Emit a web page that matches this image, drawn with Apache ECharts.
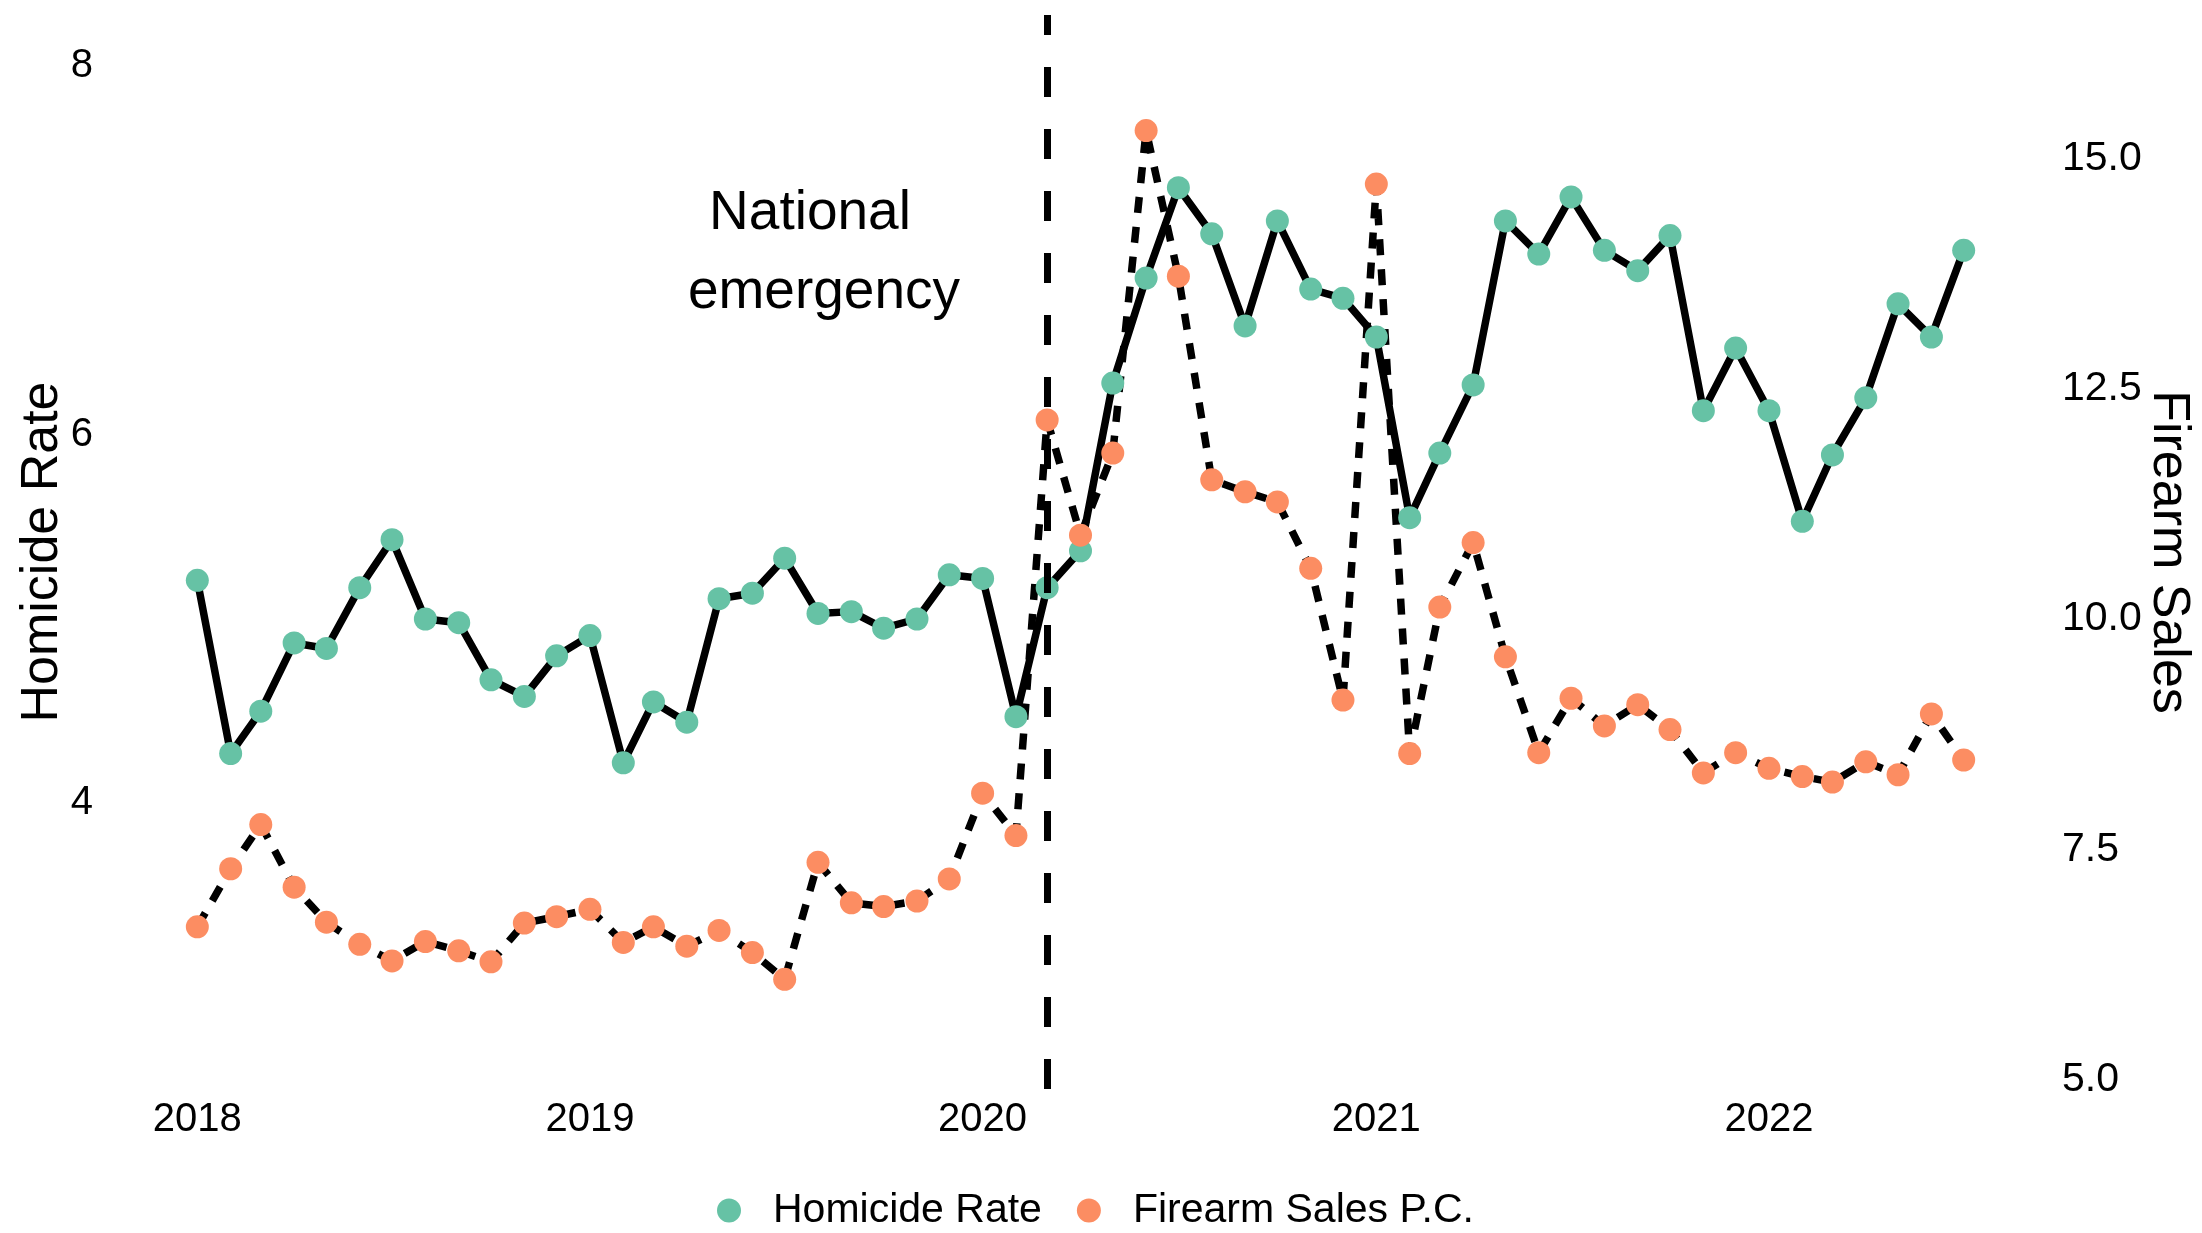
<!DOCTYPE html>
<html><head><meta charset="utf-8">
<script src="https://cdn.jsdelivr.net/npm/echarts@6/dist/echarts.min.js"></script>
<style>html,body{margin:0;padding:0;background:#fff}#c{width:2202px;height:1233px}</style>
</head><body><div id="c"></div>
<script>
// ---- data ----
const startYear = 2018;
const yearLabels = ['2018', '2019', '2020', '2021', '2022'];
const leftTicks = [4, 6, 8];
const rightTicks = [5, 7.5, 10, 12.5, 15];
const homicide = [5.21,4.27,4.50,4.87,4.84,5.17,5.43,5.00,4.98,4.67,4.58,4.80,
  4.91,4.22,4.55,4.44,5.11,5.14,5.33,5.03,5.04,4.95,5.00,5.24,
  5.22,4.47,5.17,5.37,6.28,6.85,7.34,7.09,6.59,7.16,6.79,6.74,
  6.53,5.55,5.90,6.27,7.16,6.98,7.29,7.00,6.89,7.08,6.13,6.47,
  6.13,5.53,5.89,6.20,6.71,6.53,7.00];
const firearm = [6.66,7.29,7.77,7.09,6.71,6.47,6.29,6.50,6.40,6.28,6.70,6.77,
  6.85,6.49,6.66,6.45,6.62,6.38,6.09,7.36,6.92,6.88,6.94,7.18,
  8.11,7.65,12.16,10.91,11.80,15.30,13.72,11.51,11.38,11.27,10.55,9.12,
  14.72,8.54,10.13,10.83,9.59,8.55,9.14,8.84,9.07,8.80,8.33,8.55,
  8.38,8.29,8.23,8.45,8.31,8.97,8.47];
const emergency = { year: 2020, month: 3 };
const annotationLines = ['National', 'emergency'];
const seriesNames = ['Homicide Rate', 'Firearm Sales P.C.'];

// month timestamps (1st of each month), used as x values on a numeric axis
const months = homicide.map((_, i) => Date.UTC(startYear, i, 1));
const t0 = months[0], t1 = months[months.length - 1];
const pad = (t1 - t0) * 0.05;

const FONT = '"Liberation Sans", Arial, Helvetica, sans-serif';
const GREEN = '#66C2A5', ORANGE = '#FC8D62';

const chart = echarts.init(document.getElementById('c'), null, { renderer: 'canvas' });
chart.setOption({
  animation: false,
  backgroundColor: '#fff',
  textStyle: { fontFamily: FONT },
  grid: { left: 109, right: 150, top: 15, bottom: 144, containLabel: false, outerBoundsMode: 'none' },
  xAxis: {
    type: 'value', min: t0 - pad, max: t1 + pad, scale: true,
    axisLine: { show: false }, axisTick: { show: false }, splitLine: { show: false },
    axisLabel: {
      customValues: yearLabels.map(y => Date.UTC(+y, 0, 1)),
      formatter: v => String(new Date(v).getUTCFullYear()),
      fontSize: 40, color: '#000', margin: 11, fontFamily: FONT
    }
  },
  yAxis: [{
    type: 'value', min: 2.45, max: 8.277,
    name: 'Homicide Rate', nameLocation: 'middle', nameRotate: 90, nameGap: 40, nameMoveOverlap: false,
    nameTextStyle: { fontSize: 52, color: '#000', fontFamily: FONT },
    axisLine: { show: false }, axisTick: { show: false }, splitLine: { show: false },
    axisLabel: { customValues: leftTicks, fontSize: 40, color: '#000', margin: 16, fontFamily: FONT }
  }, {
    type: 'value', min: 4.9, max: 16.554, position: 'right',
    name: 'Firearm Sales', nameLocation: 'middle', nameRotate: -90, nameGap: 90, nameMoveOverlap: false,
    nameTextStyle: { fontSize: 52, color: '#000', fontFamily: FONT },
    axisLine: { show: false }, axisTick: { show: false }, splitLine: { show: false },
    axisLabel: { customValues: rightTicks, formatter: v => v.toFixed(1), fontSize: 41, color: '#000', margin: 10, fontFamily: FONT }
  }],
  legend: {
    data: seriesNames.map(n => ({ name: n, icon: 'circle' })),
    left: 712, top: 1185, itemWidth: 24, itemHeight: 24, itemGap: 35,
    formatter: n => '{t|' + n + '}',
    textStyle: { fontSize: 41, color: '#000', fontFamily: FONT,
      rich: { t: { fontSize: 41, color: '#000', fontFamily: FONT, padding: [0, 0, 0, 27] } } },
    selectedMode: false
  },
  graphic: [
    { type: 'text', x: 810, y: 214, silent: true,
      style: { text: annotationLines[0], fill: '#000', font: '55px ' + FONT, textAlign: 'center', textVerticalAlign: 'middle' } },
    { type: 'text', x: 824, y: 293, silent: true,
      style: { text: annotationLines[1], fill: '#000', font: '55px ' + FONT, textAlign: 'center', textVerticalAlign: 'middle' } }
  ],
  series: [
    { type: 'line', name: 'vline', data: [], z: 1, silent: true,
      markLine: { silent: true, symbol: 'none', label: { show: false },
        lineStyle: { color: '#000', width: 7, type: [30, 32] },
        data: [{ xAxis: Date.UTC(emergency.year, emergency.month - 1, 1) }] } },
    { type: 'line', name: 'homicideLine', data: months.map((t, i) => [t, homicide[i]]),
      showSymbol: false, z: 2, silent: true,
      lineStyle: { color: '#000', width: 7.5, type: 'solid' } },
    { type: 'line', name: 'firearmLine', yAxisIndex: 1, data: months.map((t, i) => [t, firearm[i]]),
      showSymbol: false, z: 2, silent: true,
      lineStyle: { color: '#000', width: 7.5, type: [16, 14] } },
    { type: 'scatter', name: seriesNames[0], data: months.map((t, i) => [t, homicide[i]]),
      symbol: 'circle', symbolSize: 23, z: 3, itemStyle: { color: GREEN, opacity: 1 } },
    { type: 'scatter', name: seriesNames[1], yAxisIndex: 1, data: months.map((t, i) => [t, firearm[i]]),
      symbol: 'circle', symbolSize: 23, z: 4, itemStyle: { color: ORANGE, opacity: 1 } }
  ]
});
</script>
</body></html>
